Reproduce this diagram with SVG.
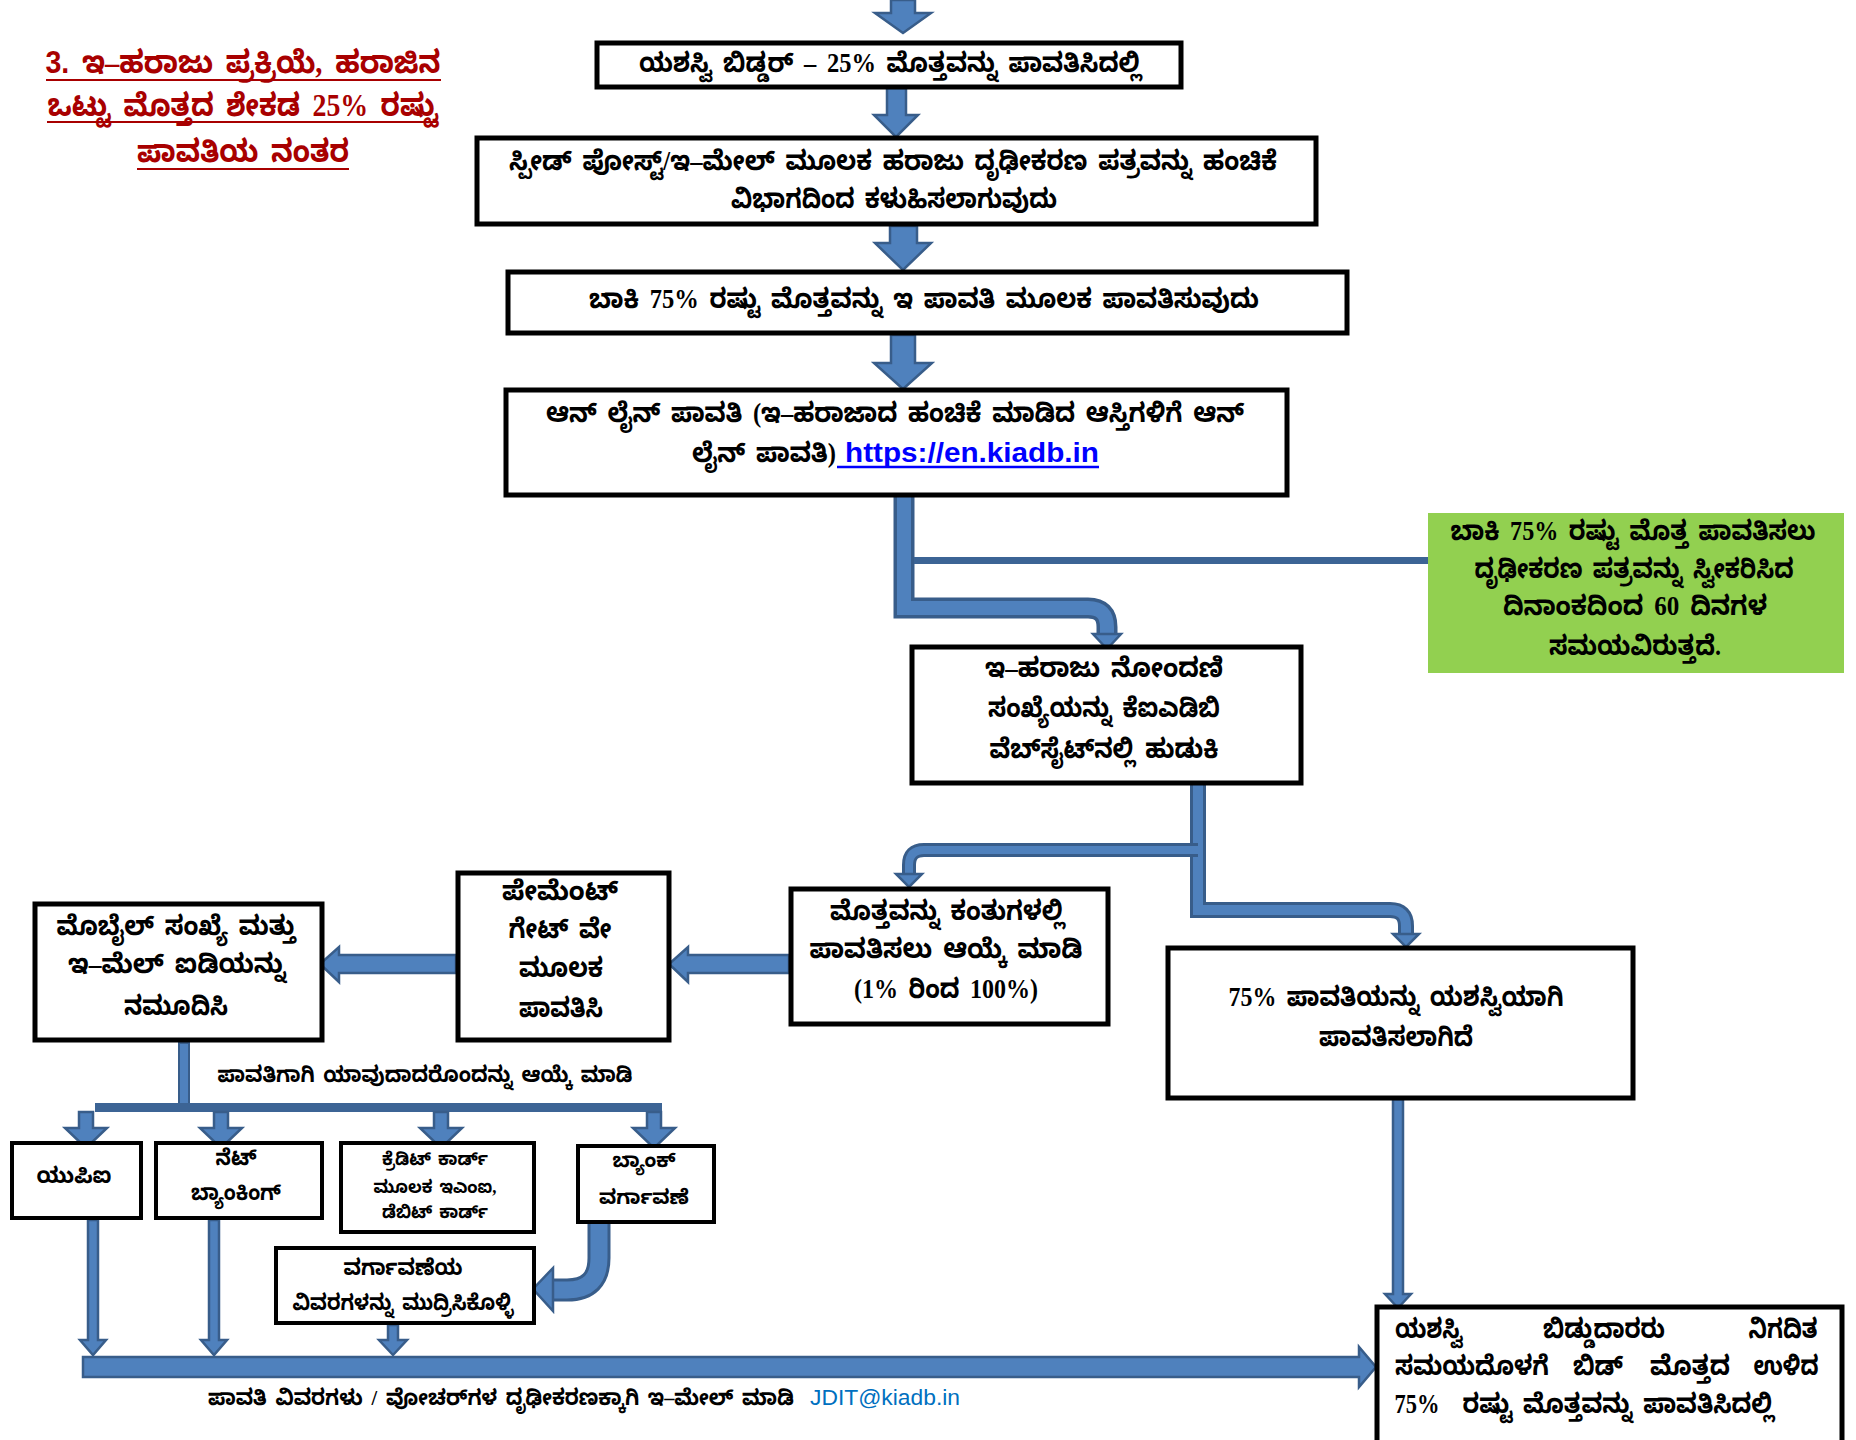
<svg xmlns="http://www.w3.org/2000/svg" width="1856" height="1440" viewBox="0 0 1856 1440">
<style>
.kn{font-family:'Liberation Serif','Noto Sans Kannada','Noto Serif Kannada','Lohit Kannada',serif;font-weight:bold;font-size:27px;word-spacing:5px;fill:#000;text-anchor:middle}
.sm{font-size:22px;word-spacing:4px}
.xs{font-size:18px;word-spacing:3px}
.s21{font-size:20px}
.end{text-anchor:end}
.ttl{font-family:'Liberation Serif','Noto Sans Kannada','Noto Serif Kannada','Lohit Kannada',serif;font-weight:bold;font-size:31px;word-spacing:6px;fill:#A80000;text-anchor:middle}
.lat{font-family:'Liberation Sans',Arial,sans-serif}
.box{fill:#fff;stroke:#000;stroke-width:5}
.bx4{fill:#fff;stroke:#000;stroke-width:4}
.arr{fill:#4F81BD;stroke:#385D8A;stroke-width:2.5;stroke-linejoin:miter}
.po{fill:none;stroke:#385D8A;stroke-linecap:butt}
.pi{fill:none;stroke:#4F81BD;stroke-linecap:butt}
.uline{stroke:#A80000;stroke-width:2}
</style>
<rect width="1856" height="1440" fill="#fff"/>

<g id="title">
<text class="ttl" x="243" y="73" textLength="395" lengthAdjust="spacingAndGlyphs"><tspan class="lat">3.</tspan> ಇ–ಹರಾಜು ಪ್ರಕ್ರಿಯೆ, ಹರಾಜಿನ</text>
<line class="uline" x1="46" y1="80" x2="441" y2="80"/>
<text class="ttl" x="243" y="116" textLength="391" lengthAdjust="spacingAndGlyphs">ಒಟ್ಟು ಮೊತ್ತದ ಶೇಕಡ 25% ರಷ್ಟು</text>
<line class="uline" x1="47" y1="122" x2="438" y2="122"/>
<text class="ttl" x="243" y="162" textLength="212" lengthAdjust="spacingAndGlyphs">ಪಾವತಿಯ ನಂತರ</text>
<line class="uline" x1="137" y1="169" x2="349" y2="169"/>
</g>

<g id="connectors">
<polygon class="arr" points="891,0 915,0 915,13 931,13 903,33 875,13 891,13"/>
<polygon class="arr" points="887,88 906,88 906,115 918,115 896,137 874,115 887,115"/>
<polygon class="arr" points="890,226 917,226 917,243 931,243 903,270 875,243 890,243"/>
<polygon class="arr" points="891,335 915,335 915,363 932,363 903,389 874,363 891,363"/>
<path class="po" stroke-width="21" d="M904,496 V608 H1088 Q1107,608 1107,627 V636"/>
<path class="pi" stroke-width="14" d="M904,497 V608 H1088 Q1107,608 1107,627 V637"/>
<polygon class="arr" points="1093,634 1121,634 1107,649"/>
<rect x="914" y="557" width="514" height="7" fill="#3C6495"/>
<path class="po" stroke-width="16" d="M1198,784 V910 H1390 Q1406,910 1406,926 V936"/>
<path class="pi" stroke-width="10" d="M1198,785 V910 H1390 Q1406,910 1406,926 V937"/>
<polygon class="arr" points="1393,934 1419,934 1406,947"/>
<path class="po" stroke-width="14" d="M1198,850 H924 Q909,850 909,865 V876"/>
<path class="pi" stroke-width="8" d="M1198,850 H924 Q909,850 909,865 V877"/>
<polygon class="arr" points="896,874 922,874 909,887"/>
<polygon class="arr" points="789,955 688,955 688,947 669,964 688,982 688,973 789,973"/>
<polygon class="arr" points="456,955 339,955 339,947 320,964 339,982 339,973 456,973"/>
<rect x="179" y="1043" width="10" height="62" fill="#4F81BD" stroke="#385D8A" stroke-width="2"/>
<rect x="95" y="1103" width="567" height="9" fill="#3C6495"/>
<polygon class="arr" points="79,1112 93,1112 93,1128 107,1128 86,1148 65,1128 79,1128"/>
<polygon class="arr" points="214,1112 228,1112 228,1128 242,1128 221,1148 200,1128 214,1128"/>
<polygon class="arr" points="434,1112 448,1112 448,1128 462,1128 441,1148 420,1128 434,1128"/>
<polygon class="arr" points="647,1112 661,1112 661,1128 675,1128 654,1148 633,1128 647,1128"/>
<path class="po" stroke-width="23" d="M599,1222 V1258 Q599,1290 567,1290 H551"/>
<path class="pi" stroke-width="17" d="M599,1223 V1258 Q599,1290 567,1290 H550"/>
<polygon class="arr" points="553,1268 553,1311 533,1289"/>
<polygon class="arr" points="88,1220 98,1220 98,1340 106,1340 93,1355 80,1340 88,1340"/>
<polygon class="arr" points="209,1220 219,1220 219,1340 227,1340 214,1355 201,1340 209,1340"/>
<polygon class="arr" points="388,1325 398,1325 398,1340 407,1340 393,1355 379,1340 388,1340"/>
<polygon class="arr" points="83,1357 1359,1357 1359,1347 1376,1367 1359,1387 1359,1377 83,1377"/>
<polygon class="arr" points="1393,1099 1403,1099 1403,1294 1411,1294 1398,1308 1385,1294 1393,1294"/>
</g>

<g id="n1">
<rect class="box" x="597" y="43" width="584" height="44"/>
<text class="kn" x="890" y="72" textLength="502" lengthAdjust="spacingAndGlyphs">ಯಶಸ್ವಿ ಬಿಡ್ಡರ್ – 25% ಮೊತ್ತವನ್ನು ಪಾವತಿಸಿದಲ್ಲಿ</text>
</g>
<g id="n2">
<rect class="box" x="477" y="138" width="839" height="86"/>
<text class="kn" x="893" y="170" textLength="768" lengthAdjust="spacingAndGlyphs">ಸ್ಪೀಡ್ ಪೋಸ್ಟ್/ಇ–ಮೇಲ್ ಮೂಲಕ ಹರಾಜು ದೃಢೀಕರಣ ಪತ್ರವನ್ನು ಹಂಚಿಕೆ</text>
<text class="kn" x="894" y="208" textLength="326" lengthAdjust="spacingAndGlyphs">ವಿಭಾಗದಿಂದ ಕಳುಹಿಸಲಾಗುವುದು</text>
</g>
<g id="n3">
<rect class="box" x="508" y="272" width="839" height="61"/>
<text class="kn" x="924" y="308" textLength="670" lengthAdjust="spacingAndGlyphs">ಬಾಕಿ 75% ರಷ್ಟು  ಮೊತ್ತವನ್ನು ಇ ಪಾವತಿ ಮೂಲಕ ಪಾವತಿಸುವುದು</text>
</g>
<g id="n4">
<rect class="box" x="506" y="390" width="781" height="105"/>
<text class="kn" x="895" y="422" textLength="698" lengthAdjust="spacingAndGlyphs">ಆನ್ ಲೈನ್ ಪಾವತಿ (ಇ–ಹರಾಜಾದ ಹಂಚಿಕೆ ಮಾಡಿದ ಆಸ್ತಿಗಳಿಗೆ ಆನ್</text>
<text class="kn" x="764" y="462" textLength="144" lengthAdjust="spacingAndGlyphs">ಲೈನ್ ಪಾವತಿ)</text>
<text class="lat" x="845" y="462" font-size="28" font-weight="bold" fill="#0000FF" textLength="254" lengthAdjust="spacingAndGlyphs">https://en.kiadb.in</text>
<line x1="837" y1="467" x2="1099" y2="467" stroke="#0000FF" stroke-width="2.5"/>
</g>
<g id="note">
<rect x="1428" y="513" width="416" height="160" fill="#92D050"/>
<text class="kn" x="1633" y="540" textLength="365" lengthAdjust="spacingAndGlyphs">ಬಾಕಿ 75% ರಷ್ಟು ಮೊತ್ತ ಪಾವತಿಸಲು</text>
<text class="kn" x="1634" y="578" textLength="319" lengthAdjust="spacingAndGlyphs">ದೃಢೀಕರಣ ಪತ್ರವನ್ನು ಸ್ವೀಕರಿಸಿದ</text>
<text class="kn" x="1635" y="615" textLength="264" lengthAdjust="spacingAndGlyphs">ದಿನಾಂಕದಿಂದ 60 ದಿನಗಳ</text>
<text class="kn" x="1635" y="655" textLength="172" lengthAdjust="spacingAndGlyphs">ಸಮಯವಿರುತ್ತದೆ.</text>
</g>
<g id="n5">
<rect class="box" x="912" y="647" width="389" height="136"/>
<text class="kn" x="1104" y="677" textLength="238" lengthAdjust="spacingAndGlyphs">ಇ–ಹರಾಜು ನೋಂದಣಿ</text>
<text class="kn" x="1104" y="717" textLength="232" lengthAdjust="spacingAndGlyphs">ಸಂಖ್ಯೆಯನ್ನು ಕೆಐಎಡಿಬಿ</text>
<text class="kn" x="1104" y="758" textLength="229" lengthAdjust="spacingAndGlyphs">ವೆಬ್‌ಸೈಟ್‌ನಲ್ಲಿ ಹುಡುಕಿ</text>
</g>
<g id="n6">
<rect class="box" x="791" y="889" width="317" height="135"/>
<text class="kn" x="947" y="920" textLength="234" lengthAdjust="spacingAndGlyphs">ಮೊತ್ತವನ್ನು ಕಂತುಗಳಲ್ಲಿ</text>
<text class="kn" x="946" y="958" textLength="273" lengthAdjust="spacingAndGlyphs">ಪಾವತಿಸಲು  ಆಯ್ಕೆ ಮಾಡಿ</text>
<text class="kn" x="946" y="998" textLength="184" lengthAdjust="spacingAndGlyphs">(1% ರಿಂದ 100%)</text>
</g>
<g id="n7">
<rect class="box" x="1168" y="948" width="465" height="150"/>
<text class="kn" x="1396" y="1006" textLength="335" lengthAdjust="spacingAndGlyphs">75% ಪಾವತಿಯನ್ನು ಯಶಸ್ವಿಯಾಗಿ</text>
<text class="kn" x="1396" y="1046" textLength="154" lengthAdjust="spacingAndGlyphs">ಪಾವತಿಸಲಾಗಿದೆ</text>
</g>
<g id="n8">
<rect class="box" x="1377" y="1307" width="465" height="140"/>
<text class="kn" x="1429" y="1338" textLength="68" lengthAdjust="spacingAndGlyphs">ಯಶಸ್ವಿ</text>
<text class="kn" x="1604" y="1338" textLength="122" lengthAdjust="spacingAndGlyphs">ಬಿಡ್ಡುದಾರರು</text>
<text class="kn" x="1783" y="1338" textLength="69" lengthAdjust="spacingAndGlyphs">ನಿಗದಿತ</text>
<text class="kn" x="1472" y="1375" textLength="154" lengthAdjust="spacingAndGlyphs">ಸಮಯದೊಳಗೆ</text>
<text class="kn" x="1598" y="1375" textLength="50" lengthAdjust="spacingAndGlyphs">ಬಿಡ್</text>
<text class="kn" x="1690" y="1375" textLength="80" lengthAdjust="spacingAndGlyphs">ಮೊತ್ತದ</text>
<text class="kn" x="1786" y="1375" textLength="65" lengthAdjust="spacingAndGlyphs">ಉಳಿದ</text>
<text class="kn" x="1417" y="1413" textLength="45" lengthAdjust="spacingAndGlyphs">75%</text>
<text class="kn" x="1618" y="1413" textLength="311" lengthAdjust="spacingAndGlyphs">ರಷ್ಟು ಮೊತ್ತವನ್ನು ಪಾವತಿಸಿದಲ್ಲಿ</text>
</g>
<g id="n9">
<rect class="box" x="458" y="873" width="211" height="167"/>
<text class="kn" x="560" y="900" textLength="116" lengthAdjust="spacingAndGlyphs">ಪೇಮೆಂಟ್</text>
<text class="kn" x="560" y="938" textLength="103" lengthAdjust="spacingAndGlyphs">ಗೇಟ್ ವೇ</text>
<text class="kn" x="561" y="977" textLength="84" lengthAdjust="spacingAndGlyphs">ಮೂಲಕ</text>
<text class="kn" x="561" y="1017" textLength="84" lengthAdjust="spacingAndGlyphs">ಪಾವತಿಸಿ</text>
</g>
<g id="n10">
<rect class="box" x="35" y="904" width="287" height="136"/>
<text class="kn" x="176" y="935" textLength="239" lengthAdjust="spacingAndGlyphs">ಮೊಬೈಲ್ ಸಂಖ್ಯೆ ಮತ್ತು</text>
<text class="kn" x="177" y="973" textLength="218" lengthAdjust="spacingAndGlyphs">ಇ–ಮೆಲ್ ಐಡಿಯನ್ನು</text>
<text class="kn" x="176" y="1015" textLength="104" lengthAdjust="spacingAndGlyphs">ನಮೂದಿಸಿ</text>
</g>
<g id="lbl">
<text class="kn sm" x="425" y="1082" textLength="415" lengthAdjust="spacingAndGlyphs">ಪಾವತಿಗಾಗಿ ಯಾವುದಾದರೊಂದನ್ನು ಆಯ್ಕೆ ಮಾಡಿ</text>
</g>
<g id="n11">
<rect class="bx4" x="12" y="1143" width="129" height="75"/>
<text class="kn sm" x="74" y="1183" textLength="75" lengthAdjust="spacingAndGlyphs">ಯುಪಿಐ</text>
</g>
<g id="n12">
<rect class="bx4" x="156" y="1143" width="166" height="75"/>
<text class="kn sm" x="236" y="1165" textLength="41" lengthAdjust="spacingAndGlyphs">ನೆಟ್</text>
<text class="kn sm" x="236" y="1200" textLength="90" lengthAdjust="spacingAndGlyphs">ಬ್ಯಾಂಕಿಂಗ್</text>
</g>
<g id="n13">
<rect class="bx4" x="341" y="1143" width="193" height="89"/>
<text class="kn xs" x="435" y="1165" textLength="106" lengthAdjust="spacingAndGlyphs">ಕ್ರೆಡಿಟ್ ಕಾರ್ಡ್</text>
<text class="kn xs" x="435" y="1193" textLength="123" lengthAdjust="spacingAndGlyphs">ಮೂಲಕ ಇಎಂಐ,</text>
<text class="kn xs" x="435" y="1218" textLength="106" lengthAdjust="spacingAndGlyphs">ಡೆಬಿಟ್ ಕಾರ್ಡ್</text>
</g>
<g id="n14">
<rect class="bx4" x="578" y="1146" width="136" height="76"/>
<text class="kn s21" x="644" y="1167" textLength="63" lengthAdjust="spacingAndGlyphs">ಬ್ಯಾಂಕ್</text>
<text class="kn s21" x="644" y="1204" textLength="90" lengthAdjust="spacingAndGlyphs">ವರ್ಗಾವಣೆ</text>
</g>
<g id="n15">
<rect class="bx4" x="276" y="1248" width="258" height="75"/>
<text class="kn sm" x="403" y="1275" textLength="119" lengthAdjust="spacingAndGlyphs">ವರ್ಗಾವಣೆಯ</text>
<text class="kn sm" x="403" y="1310" textLength="221" lengthAdjust="spacingAndGlyphs">ವಿವರಗಳನ್ನು ಮುದ್ರಿಸಿಕೊಳ್ಳಿ</text>
</g>
<g id="caption">
<text class="kn sm end" x="794" y="1405" textLength="586" lengthAdjust="spacingAndGlyphs">ಪಾವತಿ ವಿವರಗಳು / ವೋಚರ್‌ಗಳ ದೃಢೀಕರಣಕ್ಕಾಗಿ ಇ–ಮೇಲ್ ಮಾಡಿ</text>
<text class="lat" x="810" y="1405" font-size="22" fill="#0070C0" textLength="150" lengthAdjust="spacingAndGlyphs">JDIT@kiadb.in</text>
</g>
</svg>
